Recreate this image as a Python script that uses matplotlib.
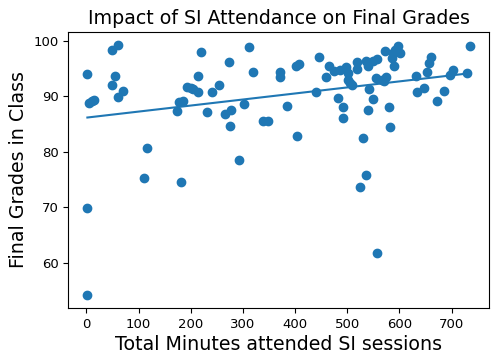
import numpy as np
import matplotlib
matplotlib.use("Agg")
import matplotlib.pyplot as plt

minutes = [2, 6, 11, 15, 2, 2, 49, 60, 54, 49, 60, 70, 117, 110, 182, 173, 177, 185,
           192, 200, 204, 214, 214, 219, 231, 241, 255, 266, 278, 276, 274, 293, 303,
           312, 320, 339, 348, 372, 372, 385, 401, 408, 404, 441, 446, 459, 465, 474,
           482, 486, 492, 492, 498, 502, 502, 505, 510, 519, 519, 525, 530, 536, 536,
           540, 542, 539, 549, 550, 555, 557, 557, 566, 571, 575, 572, 580, 582, 586,
           588, 591, 598, 601, 590, 631, 634, 647, 653, 656, 660, 672, 685, 696, 702,
           730, 735]
grades = [94.0, 88.7, 89.2, 89.3, 69.8, 54.1, 98.4, 99.3, 93.7, 92.0, 89.9, 91.0, 80.6,
          75.3, 74.6, 87.4, 89.0, 89.2, 91.7, 91.4, 91.3, 90.8, 93.7, 98.0, 87.2, 90.8,
          92.0, 86.7, 87.6, 84.6, 96.1, 78.5, 88.6, 98.9, 94.3, 85.6, 85.6, 94.3, 93.4,
          88.3, 95.4, 95.8, 82.8, 90.7, 97.0, 93.4, 95.5, 94.6, 89.6, 94.8, 88.1, 86.0,
          95.2, 94.2, 93.0, 92.3, 92.0, 96.1, 94.9, 73.7, 82.4, 75.8, 96.3, 95.5, 91.3,
          87.6, 89.5, 96.3, 93.3, 96.7, 61.8, 93.0, 92.7, 93.4, 98.2, 88.1, 84.4, 96.9,
          97.8, 98.4, 99.1, 97.8, 95.5, 93.6, 90.8, 91.4, 94.3, 96.0, 97.0, 89.2, 91.0,
          93.9, 94.8, 94.2, 99.1]

title = "Impact of SI Attendance on Final Grades"
xlabel = "Total Minutes attended SI sessions"
ylabel = "Final Grades in Class"

x = np.array(minutes, dtype=float)
y = np.array(grades, dtype=float)
slope, intercept = np.polyfit(x, y, 1)

fig = plt.figure(figsize=(4.91, 3.56), dpi=100)
ax = fig.add_axes([0.139, 0.135, 0.857, 0.775])
ax.scatter(x, y, color="#1f77b4", s=36)
xs = np.array([x.min(), x.max()])
ax.plot(xs, slope * xs + intercept, color="#1f77b4", linewidth=1.5)
ax.set_title(title, fontsize=13.7)
ax.set_xlabel(xlabel, fontsize=13.7, labelpad=3)
ax.set_ylabel(ylabel, fontsize=13.7)
ax.set_yticks([60, 70, 80, 90, 100])
ax.set_xticks([0, 100, 200, 300, 400, 500, 600, 700])
ax.tick_params(labelsize=9.5)
fig.savefig("out.png", dpi=100)
